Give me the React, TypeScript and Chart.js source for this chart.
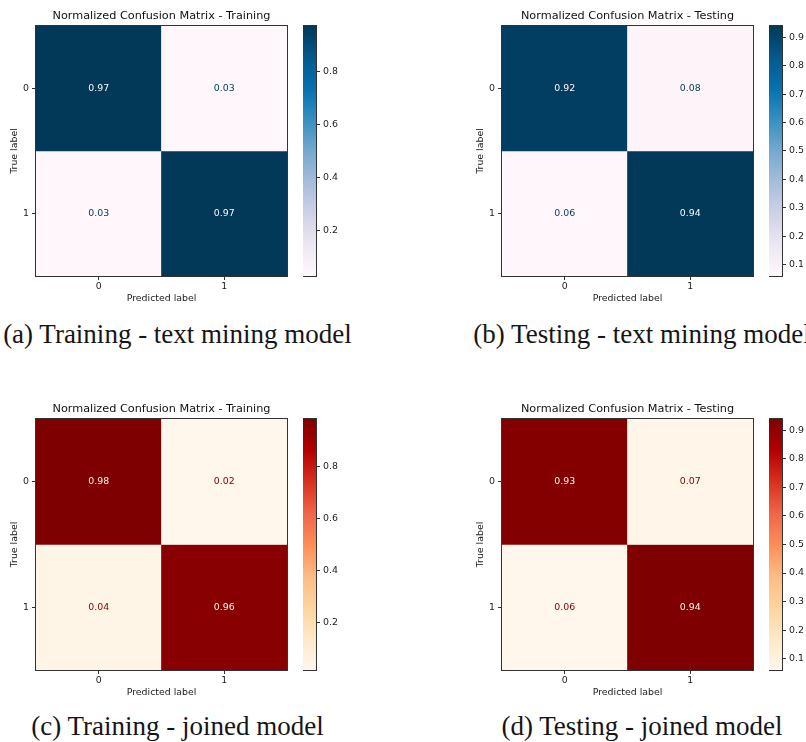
import React, { useEffect, useRef } from "react";
import { Chart, registerables } from "chart.js";

Chart.register(...registerables);
Chart.defaults.font.family = "'DejaVu Sans', sans-serif";

// ---------- data ----------
const predLabels = ["0", "1"];
const trueLabels = ["0", "1"];

const titleTraining = "Normalized Confusion Matrix - Training";
const titleTesting = "Normalized Confusion Matrix - Testing";

const valuesTrainText = [
  [0.97, 0.03],
  [0.03, 0.97],
];
const valuesTestText = [
  [0.92, 0.08],
  [0.06, 0.94],
];
const valuesTrainJoined = [
  [0.98, 0.02],
  [0.04, 0.96],
];
const valuesTestJoined = [
  [0.93, 0.07],
  [0.06, 0.94],
];

const cbarTicksTrain = [0.2, 0.4, 0.6, 0.8];
const cbarTicksTest = [0.1, 0.2, 0.3, 0.4, 0.5, 0.6, 0.7, 0.8, 0.9];

const captionA = "(a) Training - text mining model";
const captionB = "(b) Testing - text mining model";
const captionC = "(c) Training - joined model";
const captionD = "(d) Testing - joined model";

// ---------- colormaps (style) ----------
const PuBu = ["#fff7fb", "#ece7f2", "#d0d1e6", "#a6bddb", "#74a9cf", "#3690c0", "#0570b0", "#045a8d", "#023858"];
const OrRd = ["#fff7ec", "#fee8c8", "#fdd49e", "#fdbb84", "#fc8d59", "#ef6548", "#d7301f", "#b30000", "#7f0000"];

const TEXT = "#1a1a1a";
const FRAME = "#333";
const SMALL = 9.4;

function hexToRgb(h: string): number[] {
  const s = h.replace("#", "");
  return [0, 2, 4].map((k) => parseInt(s.slice(k, k + 2), 16));
}
function cmap(stops: string[], t: number): string {
  const tt = Math.max(0, Math.min(1, t));
  const n = stops.length - 1;
  const i = Math.min(Math.floor(tt * n), n - 1);
  const f = tt * n - i;
  const a = hexToRgb(stops[i]);
  const b = hexToRgb(stops[i + 1]);
  const c = a.map((v, k) => Math.round(v + (b[k] - v) * f));
  return `rgb(${c[0]},${c[1]},${c[2]})`;
}

const framePlugin = {
  id: "frame",
  afterDraw(chart: any) {
    const { ctx, chartArea: a } = chart;
    ctx.save();
    ctx.strokeStyle = FRAME;
    ctx.lineWidth = 1;
    ctx.strokeRect(Math.round(a.left) - 0.5, Math.round(a.top) - 0.5, Math.round(a.right - a.left) + 1, Math.round(a.bottom - a.top) + 1);
    ctx.restore();
  },
};

type Rect = { left: number; top: number; right: number; bottom: number };

type PanelProps = {
  title: string;
  values: number[][];
  stops: string[];
  cbarTicks: number[];
  plot: Rect;
  cbarLeft: number;
  cbarRight: number;
};

function Panel({ title, values, stops, cbarTicks, plot, cbarLeft, cbarRight }: PanelProps) {
  const mainRef = useRef<HTMLCanvasElement | null>(null);
  const cbarRef = useRef<HTMLCanvasElement | null>(null);

  const mLeft = plot.left - 36;
  const mTop = plot.top - 26;
  const mW = plot.right + 10 - mLeft;
  const mH = plot.bottom + 34 - mTop;

  const cTop = plot.top - 10;
  const cW = cbarRight - cbarLeft + 40;
  const cH = plot.bottom - plot.top + 20;

  useEffect(() => {
    const flat = values.flat();
    const vmin = Math.min(...flat);
    const vmax = Math.max(...flat);
    const norm = (v: number) => (v - vmin) / (vmax - vmin);
    const thresh = (vmin + vmax) / 2;

    const cellText = {
      id: "cellText",
      afterDatasetsDraw(chart: any) {
        const ctx = chart.ctx;
        ctx.save();
        ctx.font = `${SMALL}px 'DejaVu Sans', sans-serif`;
        ctx.textAlign = "center";
        ctx.textBaseline = "middle";
        trueLabels.forEach((_, i) => {
          const meta = chart.getDatasetMeta(i);
          meta.data.forEach((el: any, j: number) => {
            const v = values[i][j];
            const p = el.getCenterPoint();
            ctx.fillStyle = v > thresh ? stops[0] : stops[stops.length - 1];
            ctx.fillText(v.toFixed(2), p.x, p.y);
          });
        });
        ctx.restore();
      },
    };

    const main = new Chart(mainRef.current as HTMLCanvasElement, {
      type: "bar",
      data: {
        labels: predLabels,
        datasets: trueLabels.map((lab, i) => ({
          label: lab,
          data: predLabels.map(() => [i - 0.5, i + 0.5]) as any,
          backgroundColor: values[i].map((v) => cmap(stops, norm(v))),
          borderWidth: 0,
          grouped: false,
          categoryPercentage: 1,
          barPercentage: 1,
        })),
      },
      options: {
        animation: false,
        responsive: false,
        devicePixelRatio: 1,
        events: [],
        layout: { padding: { left: 0, right: 10, top: 0, bottom: 0 } },
        plugins: {
          legend: { display: false },
          tooltip: { enabled: false },
          title: {
            display: true,
            text: title,
            fullSize: false,
            color: "#111",
            font: { size: 11.25, weight: "normal" as any },
            padding: { top: 9.25, bottom: 3.25 },
          },
        },
        scales: {
          x: {
            type: "category",
            offset: true,
            grid: { offset: false, drawOnChartArea: false, drawTicks: true, tickLength: 4, tickColor: FRAME },
            border: { display: false },
            ticks: { color: TEXT, font: { size: SMALL }, padding: 1.4 },
            title: { display: true, text: "Predicted label", color: TEXT, font: { size: SMALL }, padding: { top: 0, bottom: 5.4 } },
            afterFit: (s: any) => {
              s.height = 34;
            },
          },
          y: {
            type: "linear",
            min: -0.5,
            max: trueLabels.length - 0.5,
            reverse: true,
            afterBuildTicks: (s: any) => {
              s.ticks = trueLabels.map((_, i) => ({ value: i }));
            },
            grid: { drawOnChartArea: false, drawTicks: true, tickLength: 4, tickColor: FRAME },
            border: { display: false },
            ticks: {
              color: TEXT,
              font: { size: SMALL },
              padding: 3,
              callback: (v: any) => trueLabels[Number(v)] ?? "",
            },
            title: { display: true, text: "True label", color: TEXT, font: { size: SMALL }, padding: { top: 9, bottom: 0 } },
            afterFit: (s: any) => {
              s.width = 36;
            },
          },
        },
      },
      plugins: [cellText, framePlugin],
    });

    const cbar = new Chart(cbarRef.current as HTMLCanvasElement, {
      type: "bar",
      data: {
        labels: [""],
        datasets: [
          {
            data: [[vmin, vmax]] as any,
            backgroundColor: (c: any) => {
              const ch = c.chart;
              const a = ch.chartArea;
              if (!a) return stops[0];
              const g = ch.ctx.createLinearGradient(0, a.bottom, 0, a.top);
              stops.forEach((s, k) => g.addColorStop(k / (stops.length - 1), s));
              return g;
            },
            borderWidth: 0,
            categoryPercentage: 1,
            barPercentage: 1,
          },
        ],
      },
      options: {
        animation: false,
        responsive: false,
        devicePixelRatio: 1,
        events: [],
        layout: { padding: { left: 0, right: 0, top: 10, bottom: 10 } },
        plugins: { legend: { display: false }, tooltip: { enabled: false }, title: { display: false } },
        scales: {
          x: { display: false },
          y: {
            position: "right",
            min: vmin,
            max: vmax,
            afterBuildTicks: (s: any) => {
              s.ticks = cbarTicks.map((v) => ({ value: v }));
            },
            grid: { drawOnChartArea: false, drawTicks: true, tickLength: 4, tickColor: FRAME },
            border: { display: false },
            ticks: { color: TEXT, font: { size: SMALL }, padding: 3, callback: (v: any) => Number(v).toFixed(1) },
            afterFit: (s: any) => {
              s.width = 40;
            },
          },
        },
      },
      plugins: [framePlugin],
    });

    return () => {
      main.destroy();
      cbar.destroy();
    };
  }, []);

  return (
    <>
      <canvas ref={mainRef} width={mW} height={mH} style={{ position: "absolute", left: mLeft, top: mTop, width: mW, height: mH }} />
      <canvas ref={cbarRef} width={cW} height={cH} style={{ position: "absolute", left: cbarLeft, top: cTop, width: cW, height: cH }} />
    </>
  );
}

function Caption({ text, cx, top }: { text: string; cx: number; top: number }) {
  return (
    <div
      style={{
        position: "absolute",
        left: cx - 250,
        width: 500,
        top,
        textAlign: "center",
        fontFamily: "'Liberation Serif', 'DejaVu Serif', serif",
        fontSize: 27,
        lineHeight: "27px",
        color: "#151515",
        whiteSpace: "nowrap",
      }}
    >
      {text}
    </div>
  );
}

export default function App() {
  useEffect(() => {
    document.body.style.margin = "0";
  }, []);
  return (
    <div style={{ position: "relative", width: 806, height: 742, overflow: "hidden", background: "#fff" }}>
      <Panel title={titleTraining} values={valuesTrainText} stops={PuBu} cbarTicks={cbarTicksTrain} plot={{ left: 36, top: 26, right: 287, bottom: 276 }} cbarLeft={303} cbarRight={316} />
      <Panel title={titleTesting} values={valuesTestText} stops={PuBu} cbarTicks={cbarTicksTest} plot={{ left: 502, top: 26, right: 753, bottom: 276 }} cbarLeft={769} cbarRight={782} />
      <Panel title={titleTraining} values={valuesTrainJoined} stops={OrRd} cbarTicks={cbarTicksTrain} plot={{ left: 36, top: 419, right: 287, bottom: 670 }} cbarLeft={303} cbarRight={316} />
      <Panel title={titleTesting} values={valuesTestJoined} stops={OrRd} cbarTicks={cbarTicksTest} plot={{ left: 502, top: 419, right: 753, bottom: 670 }} cbarLeft={769} cbarRight={782} />
      <Caption text={captionA} cx={177.5} top={321} />
      <Caption text={captionB} cx={642} top={321} />
      <Caption text={captionC} cx={177.5} top={713} />
      <Caption text={captionD} cx={642} top={713} />
    </div>
  );
}
